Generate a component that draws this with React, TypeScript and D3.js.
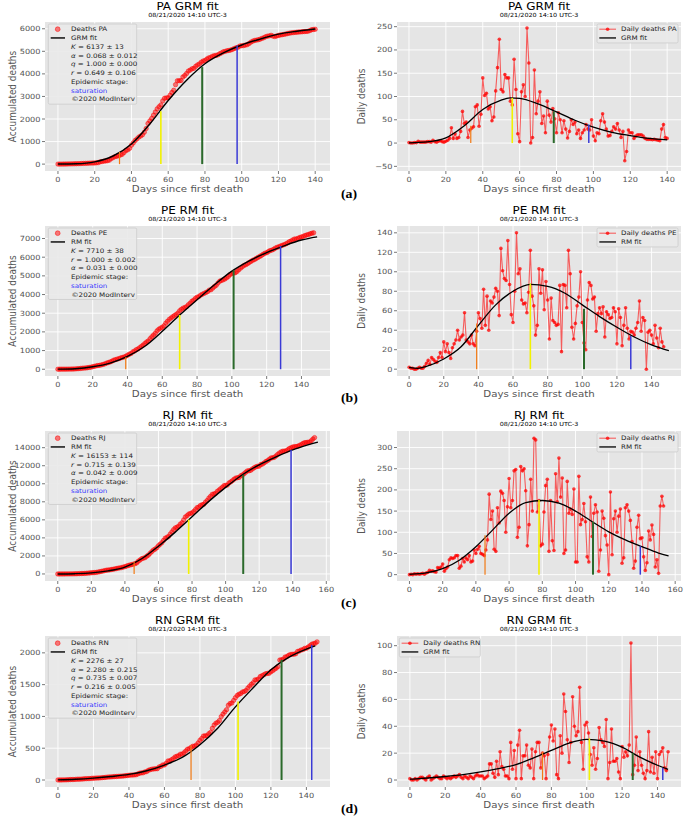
import React from "react";
import * as d3 from "d3";

const SX = 1.15;
const FONT = "'DejaVu Sans', sans-serif";
const SUBTITLE = "08/21/2020 14:10 UTC-3";

const STATES = ["PA", "PE", "RJ", "RN"];
const MODELS = ["GRM", "RM", "RM", "GRM"];
const TAGS = ["(a)", "(b)", "(c)", "(d)"];

// ---------- daily deaths (day 0 .. n) ----------
const PA_DAILY = [
  1, 0, 0, 1, 1, 4, 2, 2, 2, 2,
  3, 3, 2, 6, 3, 2, 4, 5, 3, 2,
  4, 6, 10, 33, 10, 20, 10, 12, 25, 68,
  42, 45, 12, 28, 32, 35, 78, 82, 36, 62,
  140, 102, 107, 73, 78, 48, 56, 112, 162, 223,
  115, 110, 147, 140, 140, 90, 82, 180, 115, 20,
  3, 110, 125, 100, 247, 172, 0, 12, 157, 63,
  90, 110, 42, 58, 22, 90, 60, 45, 74, 52,
  22, 65, 50, 22, 48, 30, 11, 25, 50, 40,
  45, 20, 28, 10, 22, 28, 40, 30, 28, 50,
  15, 5, 22, 20, 48, 63, 45, 30, 15, 16,
  25, 35, 30, 42, 28, 12, 25, -38, -18, 28,
  22, 22, 10, 15, 18, 18, 18, 15, 10, 8,
  8, 8, 7, 8, 7, 6, 5, 30, 40, 12,
  10,
];
const PE_DAILY = [
  2, 1, 1, 0, 0, 1, 2, 1, 1, 3,
  6, 9, 5, 12, 10, 8, 7, 12, 17, 12,
  28, 18, 26, 17, 11, 22, 26, 30, 40, 30,
  33, 35, 58, 30, 28, 26, 35, 26, 24, 39,
  58, 52, 42, 82, 45, 75, 40, 70, 68, 74,
  83, 80, 55, 124, 101, 93, 91, 132, 87, 56,
  48, 80, 140, 98, 103, 71, 67, 68, 58, 79,
  122, 75, 65, 35, 45, 103, 78, 102, 61, 90,
  71, 31, 73, 50, 48, 45, 46, 86, 18, 87,
  86, 63, 122, 98, 43, 31, 47, 65, 74, 100,
  48, 27, 20, 71, 89, 86, 72, 74, 39, 57,
  63, 57, 64, 33, 59, 56, 52, 53, 63, 59,
  26, 62, 53, 24, 45, 63, 42, 31, 39, 38,
  35, 42, 48, 70, 39, 53, 50, 0, 38, 40,
  35, 26, 45, 32, 22, 42, 28, 23,
];
const RJ_DAILY = [
  0, 1, 0, 2, 1, 2, 1, 2, 3, 1,
  4, 5, 10, 8, 9, 7, 6, 17, 15, 18,
  25, 8, 14, 18, 35, 40, 38, 40, 45, 45,
  15, 20, 38, 30, 40, 35, 45, 30, 32, 58,
  50, 60, 67, 50, 48, 45, 58, 82, 190, 130,
  150, 60, 55, 158, 122, 197, 192, 175, 100, 160,
  227, 158, 175, 245, 248, 88, 112, 255, 245, 250,
  198, 68, 118, 225, 150, 322, 318, 148, 175, 68,
  72, 148, 210, 225, 55, 175, 80, 57, 238, 172,
  275, 183, 228, 50, 58, 220, 145, 155, 142, 202,
  30, 30, 232, 118, 130, 168, 125, 42, 30, 183,
  90, 145, 165, 148, 8, 58, 150, 133, 92, 70,
  0, 195, 47, 132, 150, 100, 138, 155, 27, 40,
  158, 165, 150, 128, 78, 15, 32, 112, 140, 85,
  87, 42, 10, 28, 103, 82, 117, 95, 18, 35,
  3, 162, 185, 162,
];
const RN_DAILY = [
  1, 0, 0, 1, 0, 1, 2, 2, 1, 0,
  2, 3, 0, 1, 2, 3, 2, 1, 1, 3,
  2, 1, 2, 1, 2, 3, 2, 3, 4, 2,
  1, 3, 2, 1, 3, 2, 1, 3, 4, 3,
  3, 3, 1, 2, 3, 12, 12, 5, 2, 14,
  4, 21, 10, 8, 3, 3, 1, 28, 8, 22,
  1, 26, 37, 1, 18, 18, 26, 11, 9, 23,
  1, 21, 28, 28, 9, 20, 18, 1, 19, 32,
  41, 29, 38, 4, 1, 33, 20, 64, 51, 30,
  13, 28, 62, 40, 33, 36, 69, 28, 8, 41,
  43, 35, 19, 11, 24, 8, 16, 39, 30, 28,
  25, 45, 1, 13, 38, 14, 14, 16, 6, 1,
  25, 17, 21, 18, 26, 102, 4, 11, 32, 7,
  21, 11, 5, 1, 7, 36, 6, 17, 5, 21,
  1, 19, 21, 24, 9, 7, 21,
];

// ---------- model fits ----------
const PA_FIT_CUM_DAYS = [0, 10, 20, 30, 40, 50, 60, 70, 80, 90, 100, 110, 120, 130, 140];
const PA_FIT_CUM = [2, 15, 100, 360, 890, 1780, 2820, 3720, 4450, 4930, 5280, 5540, 5760, 5890, 5990];
const PA_FIT_D_DAYS = [0, 10, 20, 30, 40, 50, 55, 60, 70, 80, 90, 100, 110, 120, 130, 140];
const PA_FIT_D = [0.5, 2.5, 11, 37, 72, 92, 97, 96, 84, 67, 49, 34, 23, 16, 10, 7];

const PE_FIT_CUM_DAYS = [0, 10, 20, 30, 40, 50, 60, 70, 80, 90, 100, 110, 120, 130, 140, 149];
const PE_FIT_CUM = [5, 30, 130, 330, 690, 1230, 2030, 2900, 3720, 4520, 5250, 5800, 6250, 6610, 6920, 7090];
const PE_FIT_D_DAYS = [0, 5, 10, 20, 30, 40, 50, 60, 70, 80, 90, 100, 110, 120, 130, 140, 150];
const PE_FIT_D = [1.8, 0.9, 3, 10.5, 23, 45, 66, 80, 87, 85, 78, 66, 54, 43, 33, 25, 19];

const RJ_FIT_CUM_DAYS = [0, 10, 20, 30, 40, 50, 60, 70, 80, 90, 100, 110, 120, 130, 140, 150, 155];
const RJ_FIT_CUM = [0, 30, 120, 340, 760, 1690, 3080, 4640, 6340, 8050, 9600, 11000, 12100, 12980, 13760, 14360, 14620];
const RJ_FIT_D_DAYS = [0, 10, 20, 30, 40, 50, 60, 70, 80, 90, 100, 110, 120, 130, 140, 150, 156];
const RJ_FIT_D = [0.8, 4, 14, 34, 66, 105, 145, 170, 175, 169, 150, 125, 101, 82, 66, 51, 44];

const RN_FIT_CUM_DAYS = [0, 10, 20, 30, 40, 50, 60, 70, 80, 90, 100, 110, 120, 130, 140, 145];
const RN_FIT_CUM = [2, 12, 30, 55, 88, 145, 235, 355, 555, 815, 1150, 1450, 1735, 1930, 2060, 2110];
const RN_FIT_D_DAYS = [0, 10, 20, 30, 40, 50, 60, 70, 80, 90, 100, 110, 120, 130, 140, 146];
const RN_FIT_D = [0.6, 1.5, 2.6, 4, 6, 8.5, 11.5, 16.5, 22, 27.5, 30.3, 29, 24.5, 17, 11, 8];

// ---------- epidemic stage markers ----------
const PA_MARK_DAYS = [33.5, 56, 78.5, 97.5];
const PA_MARK_CUM = [540, 2340, 4300, 5260];
const PA_MARK_D = [37, 97, 68, 40];
const PE_MARK_DAYS = [39, 70, 101, 128];
const PE_MARK_CUM = [640, 2900, 5300, 6600];
const PE_MARK_D = [47, 88, 62, 34];
const RJ_MARK_DAYS = [45.5, 78, 110.5, 139];
const RJ_MARK_CUM = [1320, 6030, 10990, 13750];
const RJ_MARK_D = [93, 176, 125, 67];
const RN_MARK_DAYS = [75, 101.5, 126, 143];
const RN_MARK_CUM = [545, 1235, 1890, 2125];
const RN_MARK_D = [21, 31, 20, 9];

// ---------- fitted parameters ----------
const PA_PARAMS = [["K", "6137 ± 13"], ["α", "0.068 ± 0.012"], ["q", "1.000 ± 0.000"], ["r", "0.649 ± 0.106"]];
const PE_PARAMS = [["K", "7710 ± 38"], ["r", "1.000 ± 0.002"], ["α", "0.031 ± 0.000"]];
const RJ_PARAMS = [["K", "16153 ± 114"], ["r", "0.715 ± 0.139"], ["α", "0.042 ± 0.009"]];
const RN_PARAMS = [["K", "2276 ± 27"], ["α", "2.280 ± 0.215"], ["q", "0.735 ± 0.007"], ["r", "0.216 ± 0.005"]];

// ---------- ticks ----------
const X_TICKS = [d3.range(0, 141, 20), d3.range(0, 141, 20), d3.range(0, 161, 20), d3.range(0, 141, 20)];
const Y_TICKS_CUM = [d3.range(0, 6001, 1000), d3.range(0, 7001, 1000), d3.range(0, 14001, 2000), d3.range(0, 2001, 500)];
const Y_TICKS_D = [d3.range(-50, 251, 50), d3.range(0, 141, 20), d3.range(0, 301, 50), d3.range(0, 101, 20)];

// ---------- layout ----------
const ROWS = [
  { y0: 22, y1: 171 },
  { y0: 226, y1: 376 },
  { y0: 431, y1: 581 },
  { y0: 636, y1: 787 },
];
const LX = [45, 330];
const RX = [397, 681];
const X_DOM_L = [[-7.05, 148.05], [-7.4, 156.4], [-7.6, 162.2], [-7.3, 153.3]];
const X_DOM_R = [[-6.5, 147.5], [-7, 157], [-7.5, 163.5], [-7.3, 153.3]];
const Y_DOM_L = [[-305, 6300], [-362, 7670], [-780, 15850], [-110, 2265]];
const Y_DOM_R = [[-60, 260], [-7, 147], [-15, 339], [-5.2, 107.2]];
const RLEG_AT_LEFT = [false, false, false, true];
const TAG_Y = [197.5, 402, 606.5, 813];
const MARK_COLORS = ["#f27a14", "#f2f200", "#2b6a2b", "#3a3ad6"];
const MARK_W = [1.2, 1.6, 2.0, 1.5];

const DAILY = [PA_DAILY, PE_DAILY, RJ_DAILY, RN_DAILY];
const FIT_CUM = [
  [PA_FIT_CUM_DAYS, PA_FIT_CUM], [PE_FIT_CUM_DAYS, PE_FIT_CUM],
  [RJ_FIT_CUM_DAYS, RJ_FIT_CUM], [RN_FIT_CUM_DAYS, RN_FIT_CUM],
];
const FIT_D = [
  [PA_FIT_D_DAYS, PA_FIT_D], [PE_FIT_D_DAYS, PE_FIT_D],
  [RJ_FIT_D_DAYS, RJ_FIT_D], [RN_FIT_D_DAYS, RN_FIT_D],
];
const MARKS = [
  [PA_MARK_DAYS, PA_MARK_CUM, PA_MARK_D], [PE_MARK_DAYS, PE_MARK_CUM, PE_MARK_D],
  [RJ_MARK_DAYS, RJ_MARK_CUM, RJ_MARK_D], [RN_MARK_DAYS, RN_MARK_CUM, RN_MARK_D],
];
const PARAMS = [PA_PARAMS, PE_PARAMS, RJ_PARAMS, RN_PARAMS];

function T(props: any) {
  const { x, y, size, anchor = "start", fill = "#000", rotate = false, weight, family, children } = props;
  const tr = rotate
    ? `translate(${x},${y}) scale(${SX},1) rotate(-90)`
    : `translate(${x},${y}) scale(${SX},1)`;
  return (
    <text transform={tr} fontSize={size} textAnchor={anchor} fill={fill}
      fontWeight={weight} fontFamily={family || FONT}>
      {children}
    </text>
  );
}

function fmt(t: number) {
  return t < 0 ? "\u2212" + Math.abs(t) : String(t);
}

function Frame(props: any) {
  const { x0, x1, y0, y1, xd, yd, xt, yt, title, ylabel, ylabelX, render } = props;
  const x = d3.scaleLinear().domain(xd).range([x0, x1]);
  const y = d3.scaleLinear().domain(yd).range([y1, y0]);
  const cx = (x0 + x1) / 2;
  const cy = (y0 + y1) / 2;
  return (
    <g>
      <rect x={x0} y={y0} width={x1 - x0} height={y1 - y0} fill="#E5E5E5" />
      {xt.map((t: number) => (
        <line key={"gx" + t} x1={x(t)} x2={x(t)} y1={y0} y2={y1} stroke="#fff" strokeWidth={0.9} />
      ))}
      {yt.map((t: number) => (
        <line key={"gy" + t} x1={x0} x2={x1} y1={y(t)} y2={y(t)} stroke="#fff" strokeWidth={0.9} />
      ))}
      {render(x, y)}
      {xt.map((t: number) => (
        <g key={"tx" + t}>
          <line x1={x(t)} x2={x(t)} y1={y1} y2={y1 + 3} stroke="#555" strokeWidth={0.8} />
          <T x={x(t)} y={y1 + 10.5} size={7.1} anchor="middle" fill="#555">{fmt(t)}</T>
        </g>
      ))}
      {yt.map((t: number) => (
        <g key={"ty" + t}>
          <line x1={x0 - 3} x2={x0} y1={y(t)} y2={y(t)} stroke="#555" strokeWidth={0.8} />
          <T x={x0 - 4.5} y={y(t) + 2.5} size={7.1} anchor="end" fill="#555">{fmt(t)}</T>
        </g>
      ))}
      <T x={cx} y={y0 - 12.3} size={10.4} anchor="middle">{title}</T>
      <T x={cx} y={y0 - 4.8} size={5.6} anchor="middle">{SUBTITLE}</T>
      <T x={cx} y={y1 + 21} size={8.9} anchor="middle" fill="#555">Days since first death</T>
      <T x={ylabelX} y={cy} size={8.9} anchor="middle" fill="#555" rotate>{ylabel}</T>
    </g>
  );
}

function CumPanel({ i }: { i: number }) {
  const row = ROWS[i];
  const daily = DAILY[i];
  const cum = d3.cumsum(daily);
  const [fd, fv] = FIT_CUM[i];
  const [md, mc] = MARKS[i];
  const params = PARAMS[i];
  const render = (x: any, y: any) => {
    const fitLine = d3.line<number>().x((d, k) => x(fd[k])).y((d) => y(d)).curve(d3.curveMonotoneX);
    const lx = LX[0] + 3.3;
    const ly = row.y0 + 2;
    const rowsN = 2 + params.length + 3;
    const rowY = (k: number) => ly + 5.2 + k * 8.75;
    return (
      <g>
        {Array.from(cum).map((c, k) => (
          <circle key={k} cx={x(k)} cy={y(c)} r={2.2} fill="#ff0000" fillOpacity={0.5}
            stroke="#ff0000" strokeOpacity={0.8} strokeWidth={0.6} />
        ))}
        <path d={fitLine(fv) || ""} fill="none" stroke="#000" strokeWidth={1.4} />
        {md.map((d, k) => (
          <line key={"m" + k} x1={x(d)} x2={x(d)} y1={y(0)} y2={y(mc[k])}
            stroke={MARK_COLORS[k]} strokeWidth={MARK_W[k]} />
        ))}
        <rect x={lx} y={ly} width={88.4} height={10.2 + (rowsN - 1) * 8.75} rx={1.5}
          fill="#E9E9E9" fillOpacity={0.9} stroke="#cccccc" strokeWidth={0.8} />
        <circle cx={lx + 9.4} cy={rowY(0)} r={2.4} fill="#ff0000" fillOpacity={0.5}
          stroke="#ff0000" strokeOpacity={0.8} strokeWidth={0.6} />
        <T x={lx + 22.7} y={rowY(0) + 2.2} size={6.2} fill="#222">{"Deaths " + STATES[i]}</T>
        <line x1={lx + 2.4} x2={lx + 16.7} y1={rowY(1)} y2={rowY(1)} stroke="#000" strokeWidth={1.4} />
        <T x={lx + 22.7} y={rowY(1) + 2.2} size={6.2} fill="#222">{MODELS[i] + " fit"}</T>
        {params.map((p, k) => (
          <T key={"p" + k} x={lx + 22.7} y={rowY(2 + k) + 2.2} size={6.2} fill="#222">
            <tspan fontStyle="italic">{p[0]}</tspan>
            <tspan>{" = " + p[1]}</tspan>
          </T>
        ))}
        <T x={lx + 22.7} y={rowY(2 + params.length) + 2.2} size={6.2} fill="#222">Epidemic stage:</T>
        <T x={lx + 22.7} y={rowY(3 + params.length) + 2.2} size={6.2} fill="#3a3aff">saturation</T>
        <T x={lx + 23.2} y={rowY(4 + params.length) + 2.2} size={6.2} fill="#222">©2020 ModInterv</T>
      </g>
    );
  };
  return (
    <Frame x0={LX[0]} x1={LX[1]} y0={row.y0} y1={row.y1} xd={X_DOM_L[i]} yd={Y_DOM_L[i]}
      xt={X_TICKS[i]} yt={Y_TICKS_CUM[i]} title={STATES[i] + " " + MODELS[i] + " fit"}
      ylabel="Accumulated deaths" ylabelX={15.5} render={render} />
  );
}

function DailyPanel({ i }: { i: number }) {
  const row = ROWS[i];
  const daily = DAILY[i];
  const [fd, fv] = FIT_D[i];
  const [md, , mdv] = MARKS[i];
  const render = (x: any, y: any) => {
    const dataLine = d3.line<number>().x((d, k) => x(k)).y((d) => y(d));
    const fitLine = d3.line<number>().x((d, k) => x(fd[k])).y((d) => y(d)).curve(d3.curveMonotoneX);
    const w = 81;
    const lx = RLEG_AT_LEFT[i] ? RX[0] + 2.3 : RX[1] - 3 - w;
    const ly = row.y0 + 2;
    const rowY = (k: number) => ly + 5.2 + k * 8.75;
    return (
      <g>
        <path d={dataLine(daily) || ""} fill="none" stroke="#ff0000" strokeOpacity={0.6} strokeWidth={1.1} />
        {daily.map((v, k) => (
          <circle key={k} cx={x(k)} cy={y(v)} r={1.8} fill="#ff0000" fillOpacity={0.75} />
        ))}
        <path d={fitLine(fv) || ""} fill="none" stroke="#000" strokeWidth={1.3} />
        {md.map((d, k) => (
          <line key={"m" + k} x1={x(d)} x2={x(d)} y1={y(0)} y2={y(mdv[k])}
            stroke={MARK_COLORS[k]} strokeWidth={MARK_W[k]} />
        ))}
        <rect x={lx} y={ly} width={w} height={10.2 + 8.75} rx={1.5}
          fill="#E9E9E9" fillOpacity={0.9} stroke="#cccccc" strokeWidth={0.8} />
        <line x1={lx + 2.3} x2={lx + 19} y1={rowY(0)} y2={rowY(0)} stroke="#ff0000" strokeOpacity={0.6} strokeWidth={1.1} />
        <circle cx={lx + 10.6} cy={rowY(0)} r={1.8} fill="#ff0000" fillOpacity={0.75} />
        <T x={lx + 24} y={rowY(0) + 2.2} size={6.2} fill="#222">{"Daily deaths " + STATES[i]}</T>
        <line x1={lx + 2.3} x2={lx + 19} y1={rowY(1)} y2={rowY(1)} stroke="#000" strokeWidth={1.3} />
        <T x={lx + 24} y={rowY(1) + 2.2} size={6.2} fill="#222">{MODELS[i] + " fit"}</T>
      </g>
    );
  };
  return (
    <Frame x0={RX[0]} x1={RX[1]} y0={row.y0} y1={row.y1} xd={X_DOM_R[i]} yd={Y_DOM_R[i]}
      xt={X_TICKS[i]} yt={Y_TICKS_D[i]} title={STATES[i] + " " + MODELS[i] + " fit"}
      ylabel="Daily deaths" ylabelX={365} render={render} />
  );
}

export default function App() {
  return (
    <svg width={685} height={818} viewBox="0 0 685 818"
      style={{ position: "absolute", left: 0, top: 0, background: "#fff" }}>
      <rect x={0} y={0} width={685} height={818} fill="#fff" />
      {STATES.map((s, i) => (
        <g key={s}>
          <CumPanel i={i} />
          <DailyPanel i={i} />
          <T x={341} y={TAG_Y[i]} size={12} weight="bold" family="'Liberation Serif', 'DejaVu Serif', serif">
            {TAGS[i]}
          </T>
        </g>
      ))}
    </svg>
  );
}
